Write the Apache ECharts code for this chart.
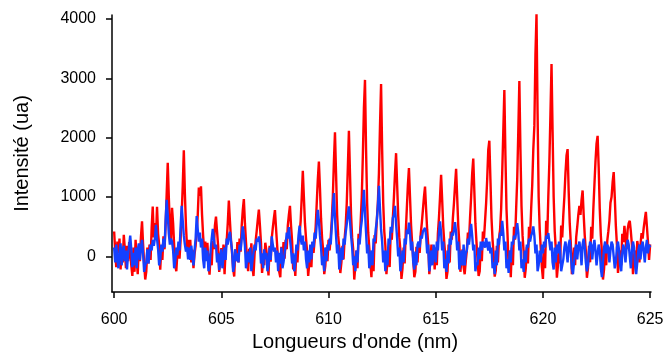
<!DOCTYPE html>
<html>
<head>
<meta charset="utf-8">
<script src="https://cdn.jsdelivr.net/npm/echarts@6/dist/echarts.min.js"></script>
<style>
html,body{margin:0;padding:0;background:#fff;}
#c{width:663px;height:356px;}
</style>
</head>
<body>
<div id="c"></div>
<script>
// Sampling grid of the spectra (nm)
const lambdaStart = 600;
const lambdaStep = 0.05;

const xTicks = [600, 605, 610, 615, 620, 625];
const yTicks = [0, 1000, 2000, 3000, 4000];

// Red spectrum (ua), one value per 0.05 nm from 600 to 625 nm
const redValues = [
 420, 80, -180, 250, 60, 300, -220, 90, -100, 365,
 120, -200, 180, -80, 240, 60, -150, -330, 150, -260,
 280, -40, -300, 160, -80, 330, 590, 210, -120, -390,
 -250, 150, -120, 200, -60, 480, 840, 320, 560, 300,
 837, 380, 200, -224, 150, -60, 340, 120, 520, 1050,
 1577, 1000, 480, 250, 820, 560, 180, -150, -250, 60,
 200, -40, 280, 700, 1200, 1790, 1050, 520, 150, 280,
 90, 280, -100, 112, -200, 40, 180, 420, 700, 1160,
 1020, 1180, 700, 350, 80, 250, -60, 230, -120, -308,
 50, -150, 260, 120, 520, 670, 420, 180, -260, -80,
 140, -140, 200, -300, 120, 260, 560, 943, 600, 280,
 60, -200, -340, 120, -80, 240, -100, 300, 80, 520,
 780, 966, 560, 240, -60, -250, 130, -120, 220, -180,
 -330, 40, 260, 430, 620, 790, 520, 220, -280, -60,
 -150, 230, 100, -60, -320, 180, -90, 300, 480, 640,
 780, 480, 200, -80, -260, -350, 160, -120, 240, -40,
 280, 120, 520, 700, 853, 520, 260, -220, -40, -330,
 120, -100, 240, 380, 600, 1000, 1443, 1000, 560, 300,
 80, -330, -120, 100, -180, 240, 60, 260, 500, 900,
 1300, 1600, 1150, 640, 300, 100, -300, -160, 150, -80,
 280, 100, 320, 600, 1000, 1600, 2094, 1400, 700, 350,
 150, -280, -100, 180, -50, 300, 520, 900, 1500, 2116,
 1400, 700, 320, 120, -390, -150, 100, -200, 380, 250,
 600, 1000, 1700, 2500, 2975, 1800, 900, 400, 150, -100,
 -350, 80, -250, 360, 220, 600, 900, 1400, 2200, 2907,
 1800, 900, 420, 180, -300, -50, 100, -180, 420, 280,
 650, 1000, 1400, 1740, 1200, 680, 320, 120, -380, -200,
 150, -120, 400, 800, 1200, 1488, 1000, 520, 220, -40,
 -350, -260, 160, -100, 220, 60, 380, 560, 780, 1000,
 1178, 800, 450, 200, -300, -60, 200, -120, 120, -220,
 150, -150, 380, 650, 1000, 1375, 950, 500, 220, 0,
 -380, -250, 200, -100, 420, 280, 650, 900, 1200, 1476,
 1000, 520, 220, -260, -40, 120, -180, -300, -80, 100,
 400, 250, 650, 1000, 1400, 1650, 1100, 560, 240, -60,
 -330, -250, 180, -80, 420, 300, 600, 900, 1300, 1800,
 1950, 1300, 650, 280, 40, -340, -240, 180, -100, 300,
 450, 800, 1400, 2100, 2806, 1700, 800, 350, -200, 100,
 -350, 150, -150, 500, 280, 800, 1300, 2100, 2958, 1800,
 850, 350, 80, -360, -200, 160, -120, 500, 320, 800,
 1200, 1800, 2200, 3400, 4081, 2400, 1000, 450, 120, -180,
 -380, 120, -200, 600, 320, 1000, 1600, 2400, 3244, 2100,
 1000, 420, 120, -360, -150, 200, -120, 520, 320, 700,
 1010, 1400, 1700, 1808, 1100, 560, 220, -300, -80, 150,
 -150, 320, 500, 700, 850, 700, 950, 1111, 700, 350,
 100, -360, -200, 180, -100, 500, 300, 800, 1200, 1600,
 1900, 2032, 1500, 800, 350, 80, -390, -220, 120, -150,
 260, 420, 600, 904, 1000, 1250, 1421, 1000, 520, 200,
 -280, -60, 100, -150, 380, 240, 517, 300, 120, 450,
 560, 600, 420, 200, -300, -80, 100, -200, 260, 140,
 -100, 200, 394, 300, 480, 620, 750, 500, 240, -60,
 200
];

// Blue spectrum (ua), same sampling
const blueValues = [
 150, -100, 200, -50, -200, 80, 220, -150, 60, 180,
 -80, 100, -220, 40, 180, 350, 120, -180, 60, -150,
 150, -200, 100, 220, -60, 150, 280, 40, -260, -150,
 -100, 120, -120, 60, 200, 100, 280, 180, 300, 530,
 300, 120, -150, -50, 200, 80, 300, 150, 600, 955,
 700, 380, 200, 300, 250, 100, -200, -80, 150, 20,
 250, 100, 500, 853, 600, 350, 200, 80, 160, -50,
 150, -60, 180, 0, -150, 100, 300, 680, 450, 250,
 400, 150, 300, -50, -200, 150, -80, 100, -250, -150,
 100, 300, 466, 300, 150, 200, -100, 50, -230, -50,
 120, -200, 0, 150, -60, 300, 200, 350, 415, 250,
 100, -260, -150, 120, -80, 50, -100, 200, 100, 300,
 505, 350, 180, -200, -50, 80, -100, 150, -250, -80,
 -100, 200, 100, 300, 250, 337, 200, -120, 50, -200,
 120, -50, 60, -250, -150, 150, -60, 337, 200, 80,
 150, -100, 100, -250, 60, -120, 150, -200, -100, 50,
 200, 400, 300, 495, 300, 120, -120, 50, -250, -100,
 200, 100, 350, 517, 300, 200, 350, 100, 250, -50,
 -200, 100, -100, 200, -50, 250, 150, 400, 300, 550,
 786, 600, 350, 150, -150, 0, -250, 150, -80, 200,
 100, 300, 200, 500, 800, 1067, 650, 350, 50, 200,
 -220, -100, 150, -60, 300, 200, 400, 550, 700, 842,
 600, 350, 150, -150, 0, -250, 100, -100, 300, 200,
 450, 600, 850, 1123, 750, 400, 50, 200, -200, -100,
 100, -150, 300, 250, 450, 600, 850, 1190, 800, 450,
 250, -100, 100, -250, 100, -150, 300, 200, 500, 400,
 650, 700, 853, 550, 300, 0, 150, -250, -150, 100,
 -100, 300, 200, 450, 380, 570, 400, 100, 250, -100,
 -220, 80, -150, 200, 250, 150, 350, 300, 420, 400,
 480, 350, 50, 200, -250, -100, 100, -150, 200, 50,
 -100, 250, 100, 400, 590, 400, 100, 250, -200, -50,
 -260, 100, -120, 300, 200, 400, 350, 450, 579, 400,
 100, 250, -220, -100, 100, -150, 200, -150, 50, 100,
 300, 200, 400, 550, 350, 100, 200, -250, -100, -150,
 150, -50, 250, 100, 250, 200, 150, 310, 200, 100,
 250, 50, 150, -200, -100, -300, 100, -150, 300, 200,
 400, 350, 601, 400, 100, 250, -200, -50, -280, 100,
 -100, 250, 200, 350, 300, 400, 562, 400, 100, 250,
 -200, -50, -260, 100, -100, 200, 150, 300, 250, 350,
 400, 505, 350, 50, 200, -250, -150, 100, -100, 200,
 50, 250, 150, 350, 300, 394, 380, 100, 250, -100,
 -220, 150, -100, 200, 50, 250, 100, -250, -150, -50,
 150, 250, 100, -100, 200, 280, 50, -200, -300, -100,
 100, 200, -50, 150, 250, 100, -150, 200, 300, 150,
 -100, -250, -150, 100, 250, 200, -50, 150, 280, 100,
 -150, 50, 200, 100, -200, -350, -100, 150, 250, 50,
 200, 150, -100, 100, 250, 200, 0, -200, -100, 150,
 250, 100, -150, -250, 50, 200, 100, -100, 150, 280,
 200, 0, -200, 100, 250, 150, -150, -300, -100, 100,
 200, -50, 150, 250, 100, -100, 150, 280, 50, 200,
 150
];

function pairs(vals) {
  return vals.map((v, i) => [lambdaStart + i * lambdaStep, v]);
}

const chart = echarts.init(document.getElementById('c'), null, {renderer: 'canvas'});
const font = 'Liberation Sans, Arial, Helvetica, sans-serif';
chart.setOption({
  animation: false,
  backgroundColor: '#ffffff',
  grid: {left: 112, right: 12, top: 15, bottom: 64, containLabel: false, outerBoundsMode: 'none'},
  xAxis: {
    type: 'value',
    min: 599.9,
    max: 625.04,
    name: 'Longueurs d\'onde (nm)',
    nameLocation: 'middle',
    nameGap: 40,
    nameTextStyle: {fontFamily: font, fontSize: 20, color: '#000', padding: [0, 53, 0, 0]},
    axisLine: {show: true, onZero: false, lineStyle: {color: '#000', width: 1.5}},
    axisTick: {show: true, inside: false, length: 6, customValues: xTicks, lineStyle: {color: '#000', width: 1.5}},
    axisLabel: {margin: 20, customValues: xTicks, fontFamily: font, fontSize: 16, color: '#000',
      formatter: v => String(Math.round(v))},
    splitLine: {show: false}
  },
  yAxis: {
    type: 'value',
    min: -600,
    max: 4069,
    name: 'Intensité (ua)',
    nameLocation: 'middle',
    nameGap: 80,
    nameRotate: 90,
    nameTextStyle: {fontFamily: font, fontSize: 20, color: '#000'},
    axisLine: {show: true, onZero: false, lineStyle: {color: '#000', width: 1.5}},
    axisTick: {show: true, inside: false, length: 6, customValues: yTicks, lineStyle: {color: '#000', width: 1.5}},
    axisLabel: {margin: 16, customValues: yTicks, fontFamily: font, fontSize: 16, color: '#000',
      formatter: v => String(Math.round(v))},
    splitLine: {show: false}
  },
  series: [
    {
      name: 'rouge',
      type: 'line',
      data: pairs(redValues),
      showSymbol: false,
      symbol: 'none',
      lineStyle: {color: '#ff0000', width: 2.4},
      z: 2
    },
    {
      name: 'bleu',
      type: 'line',
      data: pairs(blueValues),
      showSymbol: false,
      symbol: 'none',
      lineStyle: {color: '#1440ff', width: 2.4},
      z: 3
    }
  ]
});
</script>
</body>
</html>
